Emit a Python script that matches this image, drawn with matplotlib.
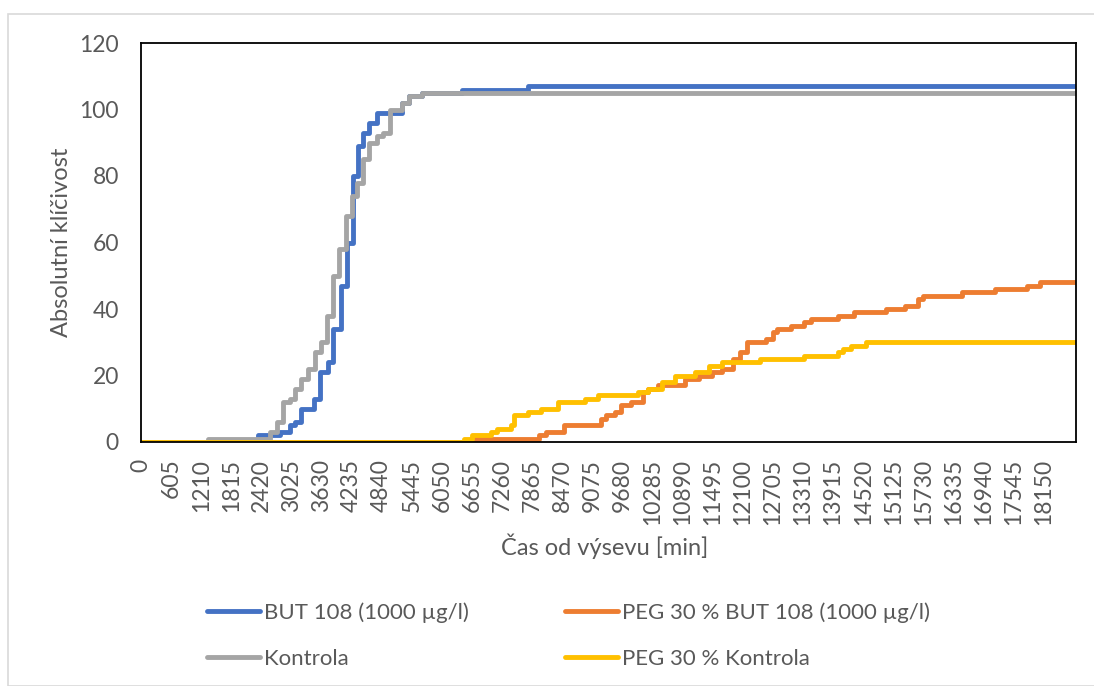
import numpy as np
import matplotlib
matplotlib.use('Agg')
from matplotlib import pyplot as plt
from matplotlib.patches import Rectangle

plt.rcParams['font.family'] = ['Lato', 'DejaVu Sans']

# cas od vysevu [min] / pocet vyklicenych
t_end = 18800

but_t = [0, 2350, 2789, 2991, 3092, 3227, 3470, 3600, 3750, 3870, 4015, 4150, 4258,
         4372, 4473, 4594, 4743, 5248, 5383, 5652, 6450, 7775]
but_y = [0, 2, 3, 5, 6, 10, 13, 21, 24, 34, 47, 60, 80,
         89, 93, 96, 99, 102, 104, 105, 106, 107]

peg_but_t = [0, 6629, 8010, 8145, 8515, 9256, 9357, 9525, 9660, 9862, 10099, 10200,
             10402, 10940, 11210, 11479, 11681, 11900, 12040, 12187, 12570, 12710,
             12793, 13063, 13333, 13467, 14006, 14343, 14982, 15353, 15622, 15723,
             16498, 17171, 17811, 18082]
peg_but_y = [0, 1, 2, 3, 5, 7, 8, 9, 11, 12, 15, 16,
             17, 19, 20, 21, 22, 25, 27, 30, 31, 33,
             34, 35, 36, 37, 38, 39, 40, 41, 43, 44,
             45, 46, 47, 48]

kontrola_t = [0, 1340, 2590, 2725, 2856, 2991, 3105, 3227, 3361, 3496, 3620, 3740,
              3867, 3988, 4123, 4237, 4338, 4460, 4594, 4743, 4870, 5000, 5248,
              5383, 5652]
kontrola_y = [0, 1, 3, 6, 12, 13, 16, 19, 22, 27, 30, 38,
              50, 58, 68, 74, 78, 85, 90, 92, 93, 100, 102,
              104, 105]

peg_kontrola_t = [0, 6494, 6663, 7033, 7168, 7437, 7505, 7775, 8044, 8381, 8919,
                  9189, 9997, 10200, 10469, 10738, 11142, 11412, 11681, 12456,
                  13333, 14006, 14107, 14275, 14578]
peg_kontrola_y = [0, 1, 2, 3, 4, 5, 8, 9, 10, 12, 13,
                  14, 15, 16, 18, 20, 21, 23, 24, 25,
                  26, 27, 28, 29, 30]

series = [
    ('BUT 108 (1000 µg/l)', but_t, but_y, '#4472C4'),
    ('PEG 30 % BUT 108 (1000 µg/l)', peg_but_t, peg_but_y, '#ED7D31'),
    ('Kontrola', kontrola_t, kontrola_y, '#A5A5A5'),
    ('PEG 30 % Kontrola', peg_kontrola_t, peg_kontrola_y, '#FFC000'),
]

xticks = np.arange(0, 18151, 605)
yticks = np.arange(0, 121, 20)
txt = '#595959'
fs = 16.5

W, H = 1094, 686
fig = plt.figure(figsize=(W/100, H/100), dpi=100)
# chart area border (excel)
fig.patches.append(Rectangle((8/W, 0), 1.2, 1 - 14/H, transform=fig.transFigure,
                             fill=False, edgecolor='#D9D9D9', lw=1.2))

ax = fig.add_axes([141/W, 1 - 442/H, (1076-141)/W, (442-43)/H])
lines = {}
for name, t, y, c in series:
    tt = list(t) + [t_end]
    yy = list(y) + [y[-1]]
    ln, = ax.step(tt, yy, where='post', color=c, lw=3.5, label=name,
                  solid_joinstyle='round', solid_capstyle='round')
    lines[name] = ln

ax.set_xlim(0, t_end)
ax.set_ylim(0, 120)
ax.set_xticks(xticks)
ax.set_xticklabels([str(v) for v in xticks], rotation=90, fontsize=fs, color=txt)
ax.set_yticks(yticks)
ax.set_yticklabels([str(v) for v in yticks], fontsize=fs, color=txt)
ax.tick_params(axis='x', length=0, pad=12)
ax.tick_params(axis='y', length=0, pad=16)
for s in ax.spines.values():
    s.set_color('black')
    s.set_linewidth(1.3)

fig.text(62/W, 1 - 242/H, 'Absolutní klíčivost', rotation=90, ha='center', va='center',
         fontsize=17, color=txt)
fig.text(605/W, 1 - 546/H, 'Čas od výsevu [min]', ha='center', va='center',
         fontsize=17, color=txt)

names = [s[0] for s in series]
kw = dict(loc='upper left', frameon=False, fontsize=16, borderpad=0, borderaxespad=0,
          handlelength=2.4, handletextpad=0.15, labelspacing=1.2, labelcolor=txt)
fig.legend([lines[names[0]], lines[names[2]]], [names[0], names[2]],
           bbox_to_anchor=(207/W, 1 - 602/H), **kw)
fig.legend([lines[names[1]], lines[names[3]]], [names[1], names[3]],
           bbox_to_anchor=(565/W, 1 - 602/H), **kw)

fig.savefig('out.png', dpi=100)
